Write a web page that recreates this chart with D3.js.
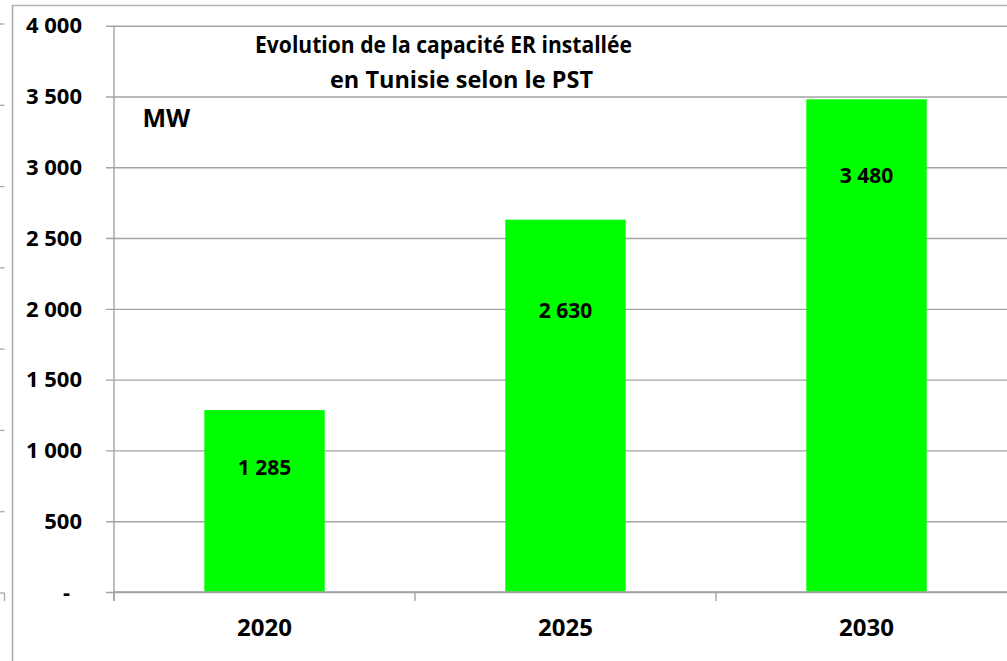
<!DOCTYPE html>
<html>
<head>
<meta charset="utf-8">
<script src="https://cdn.jsdelivr.net/npm/d3@7"></script>
<style>
  html, body { margin: 0; padding: 0; background: #fff; }
  svg { display: block; }
  text { font-family: "Open Sans", "DejaVu Sans", sans-serif; font-weight: 700; fill: #000; }
</style>
</head>
<body>
<svg id="chart" width="1007" height="661"></svg>
<script>
// ---- data ----
const categories = ["2020", "2025", "2030"];
const values = [1285, 2630, 3480];
const valueLabels = ["1 285", "2 630", "3 480"];
// where each value label sits inside its bar, in MW
const labelAnchors = [876, 1985, 2938];
const yTicks = [0, 500, 1000, 1500, 2000, 2500, 3000, 3500, 4000];
const yTickLabels = ["-", "500", "1 000", "1 500", "2 000", "2 500", "3 000", "3 500", "4 000"];
const titleLines = ["Evolution de la capacité ER installée", "en Tunisie selon le PST"];
const unitLabel = "MW";

// ---- layout ----
const W = 1007, H = 661;
const svg = d3.select("#chart");
const gridColor = "#a3a3a3";

svg.append("rect").attr("width", W).attr("height", H).attr("fill", "#fff");

// outer frame remnants (left & top border of the sheet/chart area)
svg.append("line").attr("x1", 12.5).attr("x2", W).attr("y1", 5.5).attr("y2", 5.5)
  .attr("stroke", "#b4b4b4").attr("stroke-width", 1.3);
svg.append("line").attr("x1", 12.5).attr("x2", 12.5).attr("y1", 5).attr("y2", H)
  .attr("stroke", "#a8a8a8").attr("stroke-width", 1.5);

// small stub ticks at the far left edge (neighbouring chart)
const stub = d3.scaleLinear().domain([0, 7]).range([593, 24]);
svg.append("g").selectAll("line").data(d3.range(8)).join("line")
  .attr("x1", 0).attr("x2", 4.5)
  .attr("y1", d => stub(d)).attr("y2", d => stub(d))
  .attr("stroke", "#a8a8a8").attr("stroke-width", 1.3);
svg.append("line").attr("x1", 4.5).attr("x2", 4.5).attr("y1", stub(0)).attr("y2", stub(0) + 8)
  .attr("stroke", "#a8a8a8").attr("stroke-width", 1.3);

const axisX = 114;
const y = d3.scaleLinear().domain([0, 4000]).range([592, 25.7]);
const x = d3.scaleBand().domain(categories).range([axisX, 1017]).paddingInner(0.6).paddingOuter(0.3);

// gridlines + y ticks via d3 axis
const yAxis = d3.axisLeft(y).tickValues(yTicks).tickSize(-(W - axisX)).tickSizeOuter(0)
  .tickFormat((d, i) => yTickLabels[i]).tickPadding(32);
const gy = svg.append("g").attr("transform", `translate(${axisX},0)`).call(yAxis);
gy.select(".domain").remove();
gy.selectAll(".tick line").attr("x1", -8).attr("x2", W - axisX)
  .attr("stroke", gridColor).attr("stroke-width", 1.4);
gy.selectAll(".tick text")
  .attr("font-size", 22).attr("dy", "0.33em").attr("text-anchor", "end")
  .attr("x", d => d === 0 ? -44 : -32)
  .style("font-family", '"Open Sans", sans-serif').style("font-weight", 700).attr("fill", "#000");

// bars
svg.append("g").selectAll("rect").data(values).join("rect")
  .attr("x", (d, i) => x(categories[i]))
  .attr("width", x.bandwidth())
  .attr("y", d => y(d))
  .attr("height", d => y(0) - y(d))
  .attr("fill", "#00ff00");

// y axis line
svg.append("line").attr("x1", axisX).attr("x2", axisX).attr("y1", y(4000)).attr("y2", y(0) + 9)
  .attr("stroke", gridColor).attr("stroke-width", 1.4);

// category axis ticks at band boundaries
const step = x.step();
const boundaries = categories.map(c => x(c) - x.paddingOuter() * step);
svg.append("g").selectAll("line").data(boundaries).join("line")
  .attr("x1", d => d).attr("x2", d => d).attr("y1", y(0)).attr("y2", y(0) + 9)
  .attr("stroke", gridColor).attr("stroke-width", 1.4);
svg.append("line").attr("x1", axisX).attr("x2", W).attr("y1", y(0)).attr("y2", y(0))
  .attr("stroke", gridColor).attr("stroke-width", 1.4);

// category labels
svg.append("g").selectAll("text").data(categories).join("text")
  .attr("x", d => x(d) + x.bandwidth() / 2)
  .attr("y", 636)
  .attr("text-anchor", "middle")
  .attr("font-size", 24)
  .text(d => d);

// value labels
svg.append("g").selectAll("text").data(values).join("text")
  .attr("x", (d, i) => x(categories[i]) + x.bandwidth() / 2)
  .attr("y", (d, i) => y(labelAnchors[i]))
  .attr("dy", "0.35em")
  .attr("text-anchor", "middle")
  .attr("font-size", 21)
  .text((d, i) => valueLabels[i]);

// title
const titleCenters = [443.5, 461.5];
const titleWidths = [377, 263];
const titleBase = [53.3, 88.3];
svg.append("g").selectAll("text").data(titleLines).join("text")
  .attr("x", (d, i) => titleCenters[i])
  .attr("y", (d, i) => titleBase[i])
  .attr("text-anchor", "middle")
  .attr("font-size", 23)
  .attr("textLength", (d, i) => titleWidths[i])
  .attr("lengthAdjust", "spacingAndGlyphs")
  .text(d => d);

// unit label
svg.append("text").attr("x", 142.5).attr("y", 126.7).attr("font-size", 25).text(unitLabel);
</script>
</body>
</html>
